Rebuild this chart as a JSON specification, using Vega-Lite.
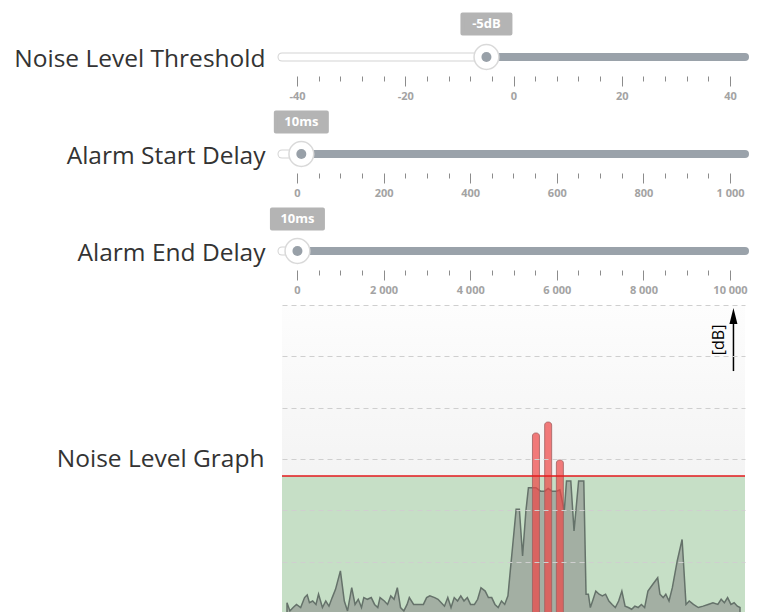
{
 "$schema": "https://vega.github.io/schema/vega-lite/v6.json",
 "padding": {"left": 13, "top": 12, "right": 5, "bottom": 0},
 "background": "white",
 "bounds": "flush",
 "spacing": 11,
 "config": {
  "view": {"stroke": null},
  "font": "Open Sans",
  "axisX": {"domain": false, "grid": false, "tickColor": "#8c8c8c", "tickWidth": 1, "tickCount": 25, "labelColor": "#a3a3a3", "labelFontWeight": "bold", "labelFontSize": 11, "labelPadding": 4, "labelFont": "Open Sans", "labelFlush": false, "labelOverlap": false, "labelBound": false},
  "axisY": {"domain": false, "ticks": false, "grid": false}
 },
 "datasets": {
  "noise": [
   {"t":0,"db":-42.0},{"t":3.0,"db":-44.4},{"t":6.3,"db":-43.4},{"t":9.7,"db":-42.5},{"t":14.0,"db":-43.4},{"t":18.0,"db":-40.5},{"t":20.7,"db":-39.7},{"t":23.0,"db":-42.0},{"t":26.3,"db":-41.5},{"t":29.7,"db":-42.5},{"t":32.3,"db":-39.5},{"t":36.3,"db":-43.4},{"t":39.7,"db":-41.5},{"t":43.0,"db":-43.0},{"t":46.3,"db":-40.5},{"t":49.7,"db":-38.1},{"t":54.7,"db":-32.7},{"t":58.7,"db":-41.5},{"t":62.0,"db":-44.4},{"t":66.3,"db":-37.6},{"t":69.7,"db":-42.5},{"t":73.0,"db":-41.0},{"t":76.3,"db":-43.4},{"t":78.7,"db":-40.5},{"t":82.3,"db":-41.0},{"t":86.3,"db":-40.5},{"t":89.7,"db":-42.5},{"t":93.0,"db":-43.4},{"t":95.3,"db":-40.5},{"t":99.7,"db":-41.5},{"t":103.0,"db":-42.5},{"t":106.3,"db":-40.0},{"t":109.7,"db":-41.0},{"t":113.0,"db":-37.6},{"t":116.3,"db":-43.4},{"t":119.7,"db":-44.4},{"t":123.0,"db":-42.5},{"t":125.3,"db":-40.5},{"t":129.7,"db":-42.5},{"t":134.7,"db":-42.5},{"t":139.7,"db":-42.5},{"t":143.0,"db":-40.5},{"t":146.3,"db":-40.0},{"t":151.3,"db":-40.5},{"t":154.7,"db":-41.0},{"t":158.0,"db":-42.0},{"t":161.3,"db":-43.0},{"t":164.7,"db":-40.5},{"t":168.0,"db":-43.4},{"t":171.3,"db":-40.5},{"t":174.7,"db":-41.5},{"t":178.0,"db":-40.0},{"t":181.3,"db":-41.5},{"t":184.7,"db":-40.5},{"t":188.0,"db":-42.5},{"t":192.0,"db":-42.5},{"t":195.3,"db":-41.0},{"t":198.7,"db":-37.6},{"t":203.0,"db":-38.6},{"t":206.3,"db":-40.5},{"t":209.7,"db":-40.5},{"t":213.0,"db":-42.5},{"t":216.3,"db":-43.4},{"t":219.7,"db":-41.5},{"t":223.0,"db":-42.5},{"t":226.3,"db":-40.0},{"t":228.7,"db":-32.7},{"t":231.3,"db":-24.9},{"t":234.7,"db":-14.7},{"t":238.0,"db":-14.7},{"t":241.3,"db":-28.3},{"t":244.7,"db":-15.2},{"t":247.3,"db":-8.4},{"t":251.3,"db":-8.4},{"t":255.0,"db":-8.4},{"t":259.7,"db":-9.4},{"t":264.0,"db":-9.4},{"t":267.5,"db":-8.6},{"t":271.3,"db":-9.4},{"t":276.3,"db":-9.4},{"t":279.5,"db":-9.0},{"t":284.0,"db":-15.2},{"t":286.3,"db":-6.4},{"t":290.7,"db":-6.4},{"t":294.0,"db":-21.0},{"t":298.7,"db":-6.4},{"t":304.0,"db":-6.4},{"t":306.3,"db":-39.5},{"t":308.7,"db":-39.5},{"t":310.7,"db":-43.4},{"t":313.0,"db":-41.5},{"t":316.3,"db":-38.6},{"t":319.7,"db":-39.5},{"t":323.0,"db":-40.0},{"t":326.3,"db":-39.5},{"t":329.7,"db":-41.5},{"t":333.0,"db":-42.5},{"t":336.3,"db":-43.4},{"t":339.7,"db":-41.5},{"t":343.0,"db":-38.6},{"t":346.3,"db":-43.0},{"t":349.7,"db":-43.4},{"t":353.0,"db":-43.9},{"t":356.3,"db":-43.0},{"t":359.7,"db":-43.4},{"t":363.0,"db":-42.5},{"t":366.3,"db":-43.4},{"t":369.7,"db":-38.6},{"t":374.7,"db":-36.6},{"t":379.7,"db":-34.7},{"t":382.0,"db":-39.5},{"t":385.3,"db":-40.5},{"t":388.0,"db":-39.5},{"t":391.3,"db":-41.5},{"t":394.7,"db":-37.6},{"t":399.7,"db":-29.8},{"t":404.7,"db":-23.5},{"t":408.7,"db":-42.5},{"t":412.0,"db":-41.5},{"t":416.3,"db":-42.5},{"t":421.3,"db":-43.4},{"t":426.3,"db":-43.0},{"t":431.3,"db":-42.5},{"t":436.3,"db":-42.0},{"t":441.3,"db":-42.5},{"t":444.7,"db":-41.0},{"t":448.0,"db":-42.0},{"t":451.3,"db":-40.5},{"t":454.7,"db":-42.5},{"t":458.0,"db":-42.0},{"t":461.3,"db":-43.0},{"t":464.0,"db":-43.4}
  ],
  "alarm": [
   {"t": 255.0, "db": 7.6},
   {"t": 267.5, "db": 10.8},
   {"t": 279.5, "db": -0.3}
  ]
 },
 "vconcat": [
  {
   "width": 463, "height": 86,
   "data": {"values": [{"setting": "Noise Level Threshold", "value": -5, "label": "-5dB"}]},
   "encoding": {
    "y": {"field": "setting", "type": "nominal", "title": null,
      "axis": {"labelFontSize": 24.5, "labelColor": "#333333", "labelFont": "Open Sans", "labelFontWeight": "normal", "labelPadding": 17, "labelAlign": "right", "labelBaseline": "middle", "labelLimit": 0, "labelOffset": 3}}
   },
   "layer": [
    {"mark": {"type": "rule", "stroke": "#d3d3d3", "strokeWidth": 9, "strokeCap": "round"},
     "encoding": {
      "x": {"field": "value", "type": "quantitative", "scale": {"domain": [-42.77, 42.77], "nice": false, "zero": false},
        "axis": {"title": null, "offset": -24, "tickCount": 25, "values": [-40,-36,-32,-28,-24,-20,-16,-12,-8,-4,0,4,8,12,16,20,24,28,32,36,40],
          "tickSize": {"condition": {"test": "datum.value % 20 === 0", "value": 10}, "value": 5},
          "labelExpr": "datum.value % 20 === 0 ? '' + datum.value : ''"}},
      "x2": {"value": 0}}},
    {"mark": {"type": "rule", "stroke": "#ffffff", "strokeWidth": 7, "strokeCap": "round"},
     "encoding": {"x": {"field": "value", "type": "quantitative"}, "x2": {"value": 0}}},
    {"mark": {"type": "rule", "stroke": "#9aa2aa", "strokeWidth": 8, "strokeCap": "round"},
     "encoding": {"x": {"field": "value", "type": "quantitative"}, "x2": {"value": "width"}}},
    {"mark": {"type": "point", "filled": true, "fill": "#ffffff", "stroke": "#d9d9d9", "strokeWidth": 1.5, "size": 615, "opacity": 1},
     "encoding": {"x": {"field": "value", "type": "quantitative"}}},
    {"mark": {"type": "point", "filled": true, "fill": "#98a0a8", "size": 100, "opacity": 1},
     "encoding": {"x": {"field": "value", "type": "quantitative"}}},
    {"mark": {"type": "point", "filled": true, "shape": "M-2.4,-0.95L2.4,-0.95L2.4,0.95L-2.4,0.95Z", "size": 400, "fill": "#b4b4b4", "stroke": "#b4b4b4", "strokeWidth": 4, "strokeJoin": "round", "opacity": 1, "yOffset": -33},
     "encoding": {"x": {"field": "value", "type": "quantitative"}}},
    {"mark": {"type": "text", "color": "#ffffff", "fontWeight": "bold", "fontSize": 13, "font": "Open Sans", "baseline": "middle", "align": "center", "yOffset": -33},
     "encoding": {"x": {"field": "value", "type": "quantitative"}, "text": {"field": "label"}}}
   ]
  },
  {
   "width": 463, "height": 86,
   "data": {"values": [{"setting": "Alarm Start Delay", "value": 10, "label": "10ms"}]},
   "encoding": {
    "y": {"field": "setting", "type": "nominal", "title": null,
      "axis": {"labelFontSize": 24.5, "labelColor": "#333333", "labelFont": "Open Sans", "labelFontWeight": "normal", "labelPadding": 17, "labelAlign": "right", "labelBaseline": "middle", "labelLimit": 0, "labelOffset": 3}}
   },
   "layer": [
    {"mark": {"type": "rule", "stroke": "#d3d3d3", "strokeWidth": 9, "strokeCap": "round"},
     "encoding": {
      "x": {"field": "value", "type": "quantitative", "scale": {"domain": [-34.64, 1034.64], "nice": false, "zero": false},
        "axis": {"title": null, "offset": -24, "tickCount": 25, "values": [0,50,100,150,200,250,300,350,400,450,500,550,600,650,700,750,800,850,900,950,1000],
          "tickSize": {"condition": {"test": "datum.value % 200 === 0", "value": 10}, "value": 5},
          "labelExpr": "datum.value % 200 === 0 ? replace(format(datum.value, ','), ',', ' ') : ''"}},
      "x2": {"value": 0}}},
    {"mark": {"type": "rule", "stroke": "#ffffff", "strokeWidth": 7, "strokeCap": "round"},
     "encoding": {"x": {"field": "value", "type": "quantitative"}, "x2": {"value": 0}}},
    {"mark": {"type": "rule", "stroke": "#9aa2aa", "strokeWidth": 8, "strokeCap": "round"},
     "encoding": {"x": {"field": "value", "type": "quantitative"}, "x2": {"value": "width"}}},
    {"mark": {"type": "point", "filled": true, "fill": "#ffffff", "stroke": "#d9d9d9", "strokeWidth": 1.5, "size": 615, "opacity": 1},
     "encoding": {"x": {"field": "value", "type": "quantitative"}}},
    {"mark": {"type": "point", "filled": true, "fill": "#98a0a8", "size": 100, "opacity": 1},
     "encoding": {"x": {"field": "value", "type": "quantitative"}}},
    {"mark": {"type": "point", "filled": true, "shape": "M-2.55,-0.95L2.55,-0.95L2.55,0.95L-2.55,0.95Z", "size": 400, "fill": "#b4b4b4", "stroke": "#b4b4b4", "strokeWidth": 4, "strokeJoin": "round", "opacity": 1, "yOffset": -32},
     "encoding": {"x": {"field": "value", "type": "quantitative"}}},
    {"mark": {"type": "text", "color": "#ffffff", "fontWeight": "bold", "fontSize": 13, "font": "Open Sans", "baseline": "middle", "align": "center", "yOffset": -32},
     "encoding": {"x": {"field": "value", "type": "quantitative"}, "text": {"field": "label"}}}
   ]
  },
  {
   "width": 463, "height": 86,
   "data": {"values": [{"setting": "Alarm End Delay", "value": 10, "label": "10ms"}]},
   "encoding": {
    "y": {"field": "setting", "type": "nominal", "title": null,
      "axis": {"labelFontSize": 24.5, "labelColor": "#333333", "labelFont": "Open Sans", "labelFontWeight": "normal", "labelPadding": 17, "labelAlign": "right", "labelBaseline": "middle", "labelLimit": 0, "labelOffset": 3}}
   },
   "layer": [
    {"mark": {"type": "rule", "stroke": "#d3d3d3", "strokeWidth": 9, "strokeCap": "round"},
     "encoding": {
      "x": {"field": "value", "type": "quantitative", "scale": {"domain": [-346.4, 10346.4], "nice": false, "zero": false},
        "axis": {"title": null, "offset": -24, "tickCount": 25, "values": [0,500,1000,1500,2000,2500,3000,3500,4000,4500,5000,5500,6000,6500,7000,7500,8000,8500,9000,9500,10000],
          "tickSize": {"condition": {"test": "datum.value % 2000 === 0", "value": 10}, "value": 5},
          "labelExpr": "datum.value % 2000 === 0 ? replace(format(datum.value, ','), ',', ' ') : ''"}},
      "x2": {"value": 0}}},
    {"mark": {"type": "rule", "stroke": "#ffffff", "strokeWidth": 7, "strokeCap": "round"},
     "encoding": {"x": {"field": "value", "type": "quantitative"}, "x2": {"value": 0}}},
    {"mark": {"type": "rule", "stroke": "#9aa2aa", "strokeWidth": 8, "strokeCap": "round"},
     "encoding": {"x": {"field": "value", "type": "quantitative"}, "x2": {"value": "width"}}},
    {"mark": {"type": "point", "filled": true, "fill": "#ffffff", "stroke": "#d9d9d9", "strokeWidth": 1.5, "size": 615, "opacity": 1},
     "encoding": {"x": {"field": "value", "type": "quantitative"}}},
    {"mark": {"type": "point", "filled": true, "fill": "#98a0a8", "size": 100, "opacity": 1},
     "encoding": {"x": {"field": "value", "type": "quantitative"}}},
    {"mark": {"type": "point", "filled": true, "shape": "M-2.55,-0.95L2.55,-0.95L2.55,0.95L-2.55,0.95Z", "size": 400, "fill": "#b4b4b4", "stroke": "#b4b4b4", "strokeWidth": 4, "strokeJoin": "round", "opacity": 1, "yOffset": -32},
     "encoding": {"x": {"field": "value", "type": "quantitative"}}},
    {"mark": {"type": "text", "color": "#ffffff", "fontWeight": "bold", "fontSize": 13, "font": "Open Sans", "baseline": "middle", "align": "center", "yOffset": -32},
     "encoding": {"x": {"field": "value", "type": "quantitative"}, "text": {"field": "label"}}}
   ]
  },
  {
   "width": 463, "height": 308,
   "layer": [
    {"data": {"values": [{"region": "plot"}]},
     "mark": {"type": "rect", "fill": {"gradient": "linear", "x1": 0, "y1": 0, "x2": 0, "y2": 1, "stops": [{"offset": 0, "color": "#fdfdfd"}, {"offset": 1, "color": "#ececec"}]}},
     "encoding": {"x": {"value": 0}, "x2": {"value": "width"}, "y": {"value": 0}, "y2": {"value": "height"}}},
    {"data": {"values": [{"threshold": -5}]},
     "mark": {"type": "rect", "fill": "#c6dfc6"},
     "encoding": {"x": {"value": 0}, "x2": {"value": "width"},
       "y": {"field": "threshold", "type": "quantitative", "scale": {"domain": [-45, 45], "nice": false, "zero": false}, "title": "Noise Level Graph",
         "axis": {"grid": true, "labels": false, "values": [-45,-30,-15,0,15,30,45], "gridColor": "#cfcfcf", "gridDash": [5, 4], "gridWidth": 1, "zindex": 1,
           "titleAngle": 0, "titleAlign": "right", "titleBaseline": "middle", "titlePadding": 18, "titleFontSize": 24.5, "titleFontWeight": "normal", "titleColor": "#333333", "titleFont": "Open Sans"}},
       "y2": {"value": "height"}}},
    {"data": {"name": "noise"},
     "mark": {"type": "area", "fill": "#808080", "fillOpacity": 0.5, "stroke": "#65726a", "strokeWidth": 1.5, "interpolate": "linear"},
     "encoding": {"x": {"field": "t", "type": "quantitative", "scale": {"domain": [0, 464], "nice": false, "zero": false}, "axis": null}, "y": {"field": "db", "type": "quantitative", "stack": null, "title": "Noise Level Graph"}, "y2": {"value": "height"}}},
    {"data": {"name": "alarm"},
     "mark": {"type": "bar", "size": 7, "fill": "#f04545", "fillOpacity": 0.7, "stroke": "#a06060", "strokeWidth": 0.8, "cornerRadiusTopLeft": 3, "cornerRadiusTopRight": 3},
     "encoding": {"x": {"field": "t", "type": "quantitative"}, "y": {"field": "db", "type": "quantitative", "stack": null, "title": "Noise Level Graph"}, "y2": {"value": "height"}}},
    {"data": {"values": [{"threshold": -5}]},
     "mark": {"type": "rule", "stroke": "#e31a1c", "strokeWidth": 1.5},
     "encoding": {"y": {"field": "threshold", "type": "quantitative", "title": "Noise Level Graph"}}},
    {"data": {"values": [{"unit": "[dB]"}]},
     "mark": {"type": "text", "angle": 270, "fontSize": 16, "font": "Open Sans", "color": "#000000", "baseline": "middle", "align": "center"},
     "encoding": {"x": {"datum": 442, "type": "quantitative"}, "y": {"datum": 34.8, "type": "quantitative", "title": "Noise Level Graph"}, "text": {"field": "unit"}}},
    {"data": {"values": [{"unit": "[dB]"}]},
     "mark": {"type": "rule", "stroke": "#000000", "strokeWidth": 1.5},
     "encoding": {"x": {"datum": 457.3, "type": "quantitative"}, "y": {"datum": 25.7, "type": "quantitative", "title": "Noise Level Graph"}, "y2": {"datum": 40}}},
    {"data": {"values": [{"unit": "[dB]"}]},
     "mark": {"type": "point", "filled": true, "fill": "#000000", "opacity": 1, "shape": "M0,-1L0.5,1L-0.5,1Z", "size": 256},
     "encoding": {"x": {"datum": 457.3, "type": "quantitative"}, "y": {"datum": 41.8, "type": "quantitative", "title": "Noise Level Graph"}}}
   ]
  }
 ]
}
